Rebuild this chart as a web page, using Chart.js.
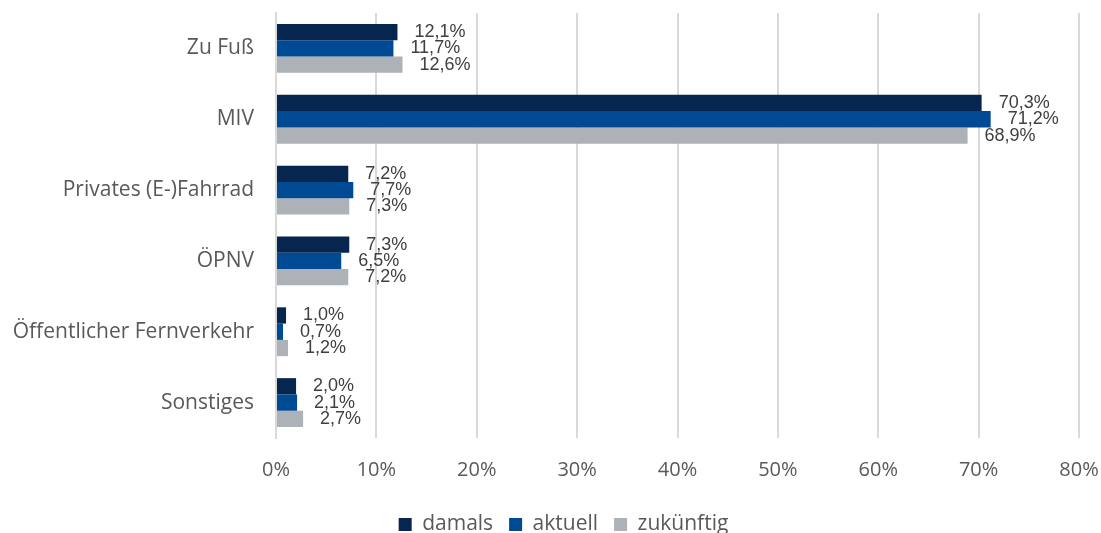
<!DOCTYPE html>
<html lang="de">
<head>
<meta charset="utf-8">
<title>Verkehrsmittelwahl</title>
<script src="https://cdn.jsdelivr.net/npm/chart.js@4.4.1/dist/chart.umd.min.js"></script>
<style>
    html, body { margin: 0; padding: 0; background: #fff; }
    #wrap { width: 1101px; height: 533px; position: relative; }
</style>
</head>
<body>
<div id="wrap"><canvas id="modalChart"></canvas></div>
<script>
const categories = ['Zu Fuß', 'MIV', 'Privates (E-)Fahrrad', 'ÖPNV', 'Öffentlicher Fernverkehr', 'Sonstiges'];
const damals = [12.1, 70.3, 7.2, 7.3, 1.0, 2.0];
const aktuell = [11.7, 71.2, 7.7, 6.5, 0.7, 2.1];
const zukuenftig = [12.6, 68.9, 7.3, 7.2, 1.2, 2.7];
const seriesNames = ['damals', 'aktuell', 'zukünftig'];
const xTicks = [0, 10, 20, 30, 40, 50, 60, 70, 80];

const colors = ['#06264f', '#004a93', '#acb2b8'];
const fontFamily = '"Open Sans", "Noto Sans", sans-serif';

// value labels to the right of each bar, German decimal comma
const barValueLabels = {
    id: 'barValueLabels',
    afterDatasetsDraw(chart) {
        const ctx = chart.ctx;
        ctx.save();
        ctx.font = '18px "Liberation Sans", Arial, sans-serif';
        ctx.fillStyle = '#404040';
        ctx.textAlign = 'left';
        ctx.textBaseline = 'middle';
        chart.data.datasets.forEach((ds, i) => {
            const meta = chart.getDatasetMeta(i);
            meta.data.forEach((bar, j) => {
                const txt = ds.data[j].toFixed(1).replace('.', ',') + '%';
                ctx.fillText(txt, bar.x + 17, bar.y);
            });
        });
        ctx.restore();
    }
};

// nudge the legend a bit to the right of the canvas centre
const legendShift = {
    id: 'legendShift',
    afterLayout(chart) {
        if (chart.legend) {
            chart.legend.left += 24;
            chart.legend.right += 24;
        }
    }
};

new Chart(document.getElementById('modalChart'), {
    type: 'bar',
    data: {
        labels: categories,
        datasets: [damals, aktuell, zukuenftig].map((d, i) => ({
            label: seriesNames[i],
            data: d,
            backgroundColor: colors[i],
            borderWidth: 0,
            categoryPercentage: 0.69,
            barPercentage: 1.0
        }))
    },
    options: {
        indexAxis: 'y',
        responsive: true,
        maintainAspectRatio: false,
        animation: false,
        layout: { padding: { top: 13, right: 22, bottom: -12, left: 0 } },
        plugins: {
            legend: {
                position: 'bottom',
                labels: {
                    font: { family: fontFamily, size: 21 },
                    color: '#595959',
                    boxWidth: 13,
                    boxHeight: 13,
                    padding: 16
                }
            },
            tooltip: { enabled: false }
        },
        scales: {
            x: {
                min: 0,
                max: 80,
                afterBuildTicks(scale) {
                    scale.ticks = xTicks.map(v => ({ value: v }));
                },
                afterFit(scale) {
                    scale.height = 60;
                    scale.paddingLeft = 0;
                    scale.paddingRight = 0;
                },
                ticks: {
                    callback: v => v + '%',
                    font: { family: fontFamily, size: 20 },
                    color: '#595959',
                    padding: 20
                },
                grid: { color: '#d9d9d9', lineWidth: 2, drawTicks: false },
                border: { display: false }
            },
            y: {
                afterFit(scale) {
                    scale.width = 276;
                    scale.paddingTop = 0;
                    scale.paddingBottom = 0;
                },
                ticks: {
                    font: { family: fontFamily, size: 21 },
                    color: '#595959',
                    padding: 22
                },
                grid: { display: false, drawTicks: false },
                border: { color: '#d9d9d9', width: 2 }
            }
        }
    },
    plugins: [barValueLabels, legendShift]
});
</script>
</body>
</html>
